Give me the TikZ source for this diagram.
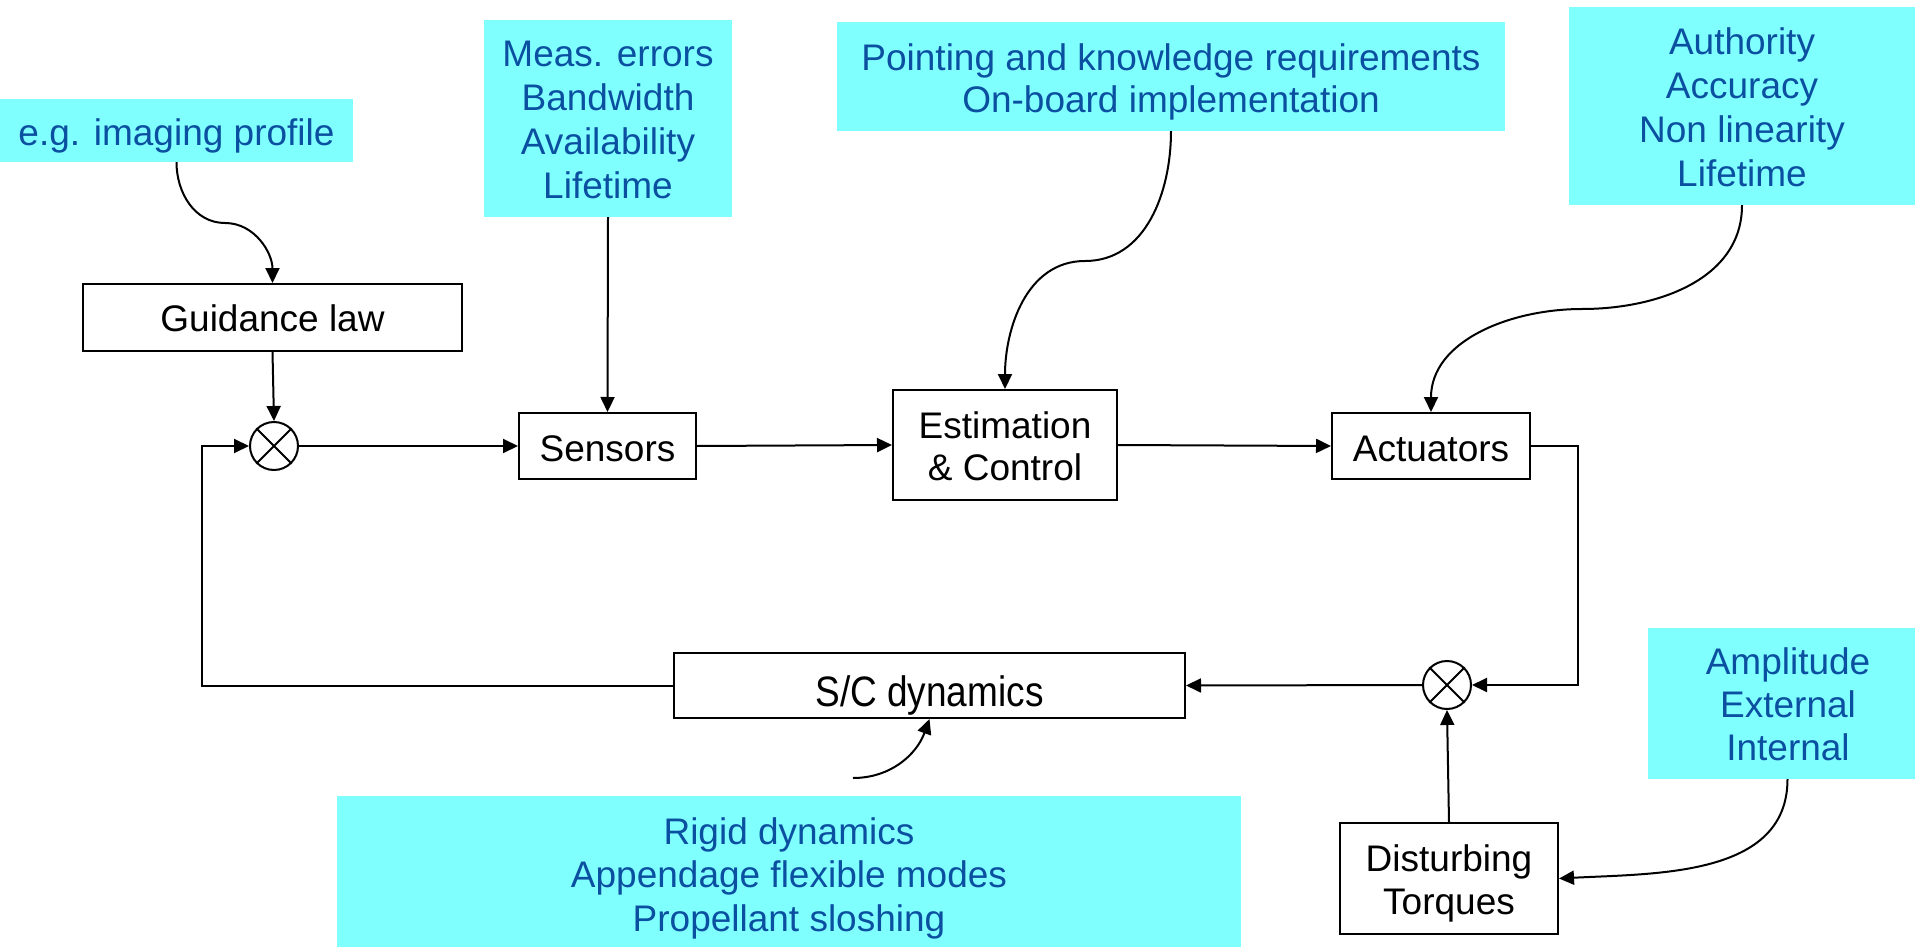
\documentclass[tikz,border=0pt]{standalone}
\usepackage{fontspec}
\setmainfont{Liberation Sans}
\usetikzlibrary{arrows.meta}
\definecolor{notefill}{RGB}{128,255,255}
\definecolor{notetext}{RGB}{11,80,160}
\newcommand\mylines[1]{\begin{tabular}[t]{@{}c@{}}#1\end{tabular}}
\begin{document}
\begin{tikzpicture}[x=1pt,y=-1pt,
  every node/.style={font=\fontsize{37}{44}\selectfont, inner sep=0pt},
  block/.style={draw, line width=2pt, rectangle},
  note/.style={fill=notefill, text=notetext, rectangle},
  sumj/.style={draw, circle, line width=2pt, minimum size=48pt},
  conn/.style={line width=2pt, -{Triangle[length=15pt,width=14pt]}},
  plain/.style={line width=2pt}]
\useasboundingbox (0,0) rectangle (1915,947);

% notes
\node[note, minimum width=353pt, minimum height=63pt, text height=29.4pt, text depth=0pt] (eg) at (176.5,130.5) {\mylines{e.g. imaging profile}};
\node[note, minimum width=248pt, minimum height=197pt, text height=0pt, text depth=103pt] (meas) at (608,118.5) {\mylines{Meas. errors\\Bandwidth\\Availability\\Lifetime}};
\node[note, minimum width=668pt, minimum height=109pt, text height=0pt, text depth=11.6pt, font=\fontsize{37}{42}\selectfont] (point) at (1171,76.5) {\mylines{Pointing and knowledge requirements\\On-board implementation}};
\node[note, minimum width=346pt, minimum height=198pt, text height=0pt, text depth=102.4pt] (auth) at (1742,106) {\mylines{Authority\\Accuracy\\Non linearity\\Lifetime}};
\node[note, minimum width=267pt, minimum height=151pt, text height=0pt, text depth=59pt, font=\fontsize{37}{43}\selectfont] (ampl) at (1781.5,703.5) {\begin{tabular}[t]{@{\hspace{13pt}}c@{}}Amplitude\\External\\Internal\end{tabular}};
\node[note, minimum width=904pt, minimum height=151pt, text height=0pt, text depth=55pt, font=\fontsize{37}{43.5}\selectfont] (rigid) at (789,871.5) {\mylines{Rigid dynamics\\Appendage flexible modes\\Propellant sloshing}};

% blocks
\node[block, minimum width=379pt, minimum height=67pt, text height=27pt, text depth=0pt] (guid) at (272.5,317.5) {\mylines{Guidance law}};
\node[block, minimum width=177pt, minimum height=66pt, text height=30pt, text depth=0pt] (sens) at (607.5,446) {\mylines{Sensors}};
\node[block, minimum width=224pt, minimum height=110pt, text height=0pt, text depth=13.4pt, font=\fontsize{37}{42}\selectfont] (est) at (1005,445) {\mylines{Estimation\\\& Control}};
\node[block, minimum width=198pt, minimum height=66pt, text height=30pt, text depth=0pt] (act) at (1431,446) {\mylines{Actuators}};
\node[block, minimum width=511pt, minimum height=65pt, text height=41pt, text depth=0pt] (sc) at (929.5,685.5) {\mylines{\scalebox{1}[1.15]{S/C dynamics}}};
\node[block, minimum width=218pt, minimum height=111pt, text height=0pt, text depth=13.4pt, font=\fontsize{37}{43}\selectfont] (dist) at (1449,878.5) {\mylines{Disturbing\\Torques}};

% summing junctions
\node[sumj] (s1) at (274,446) {};
\node[sumj] (s2) at (1447,685) {};
\draw[plain] (s1.north east) -- (s1.south west) (s1.north west) -- (s1.south east);
\draw[plain] (s2.north east) -- (s2.south west) (s2.north west) -- (s2.south east);

\coordinate (rs) at (853,778);

% connectors
\draw[conn] (eg.south) to[out=-90,in=180] (225,223) to[out=0,in=90] (guid.north);
\draw[conn] (guid.south) -- (s1.north);
\draw[conn] (s1.east) -- (sens.west);
\draw[conn] (meas.south) -- (sens.north);
\draw[conn] (sens.east) -- (est.west);
\draw[conn] (point.south) to[out=-90,in=0] (1085,261) to[out=180,in=90] (est.north);
\draw[conn] (est.east) -- (act.west);
\draw[conn] (auth.south) to[out=-90,in=0] (1582,309) to[out=180,in=90] (act.north);
\draw[conn] (act.east) -- (1578,446) |- (s2.east);
\draw[conn] (s2.west) -- (sc.east);
\draw[conn] (dist.north) -- (s2.south);
\draw[conn] ([xshift=6pt]ampl.south) to[out=-90,in=3] (dist.east);
\draw[conn] (sc.west) -- (202,685.5) |- (s1.west);
\draw[conn] (rs) to[out=0,in=-110] (sc.south);
\end{tikzpicture}
\end{document}
